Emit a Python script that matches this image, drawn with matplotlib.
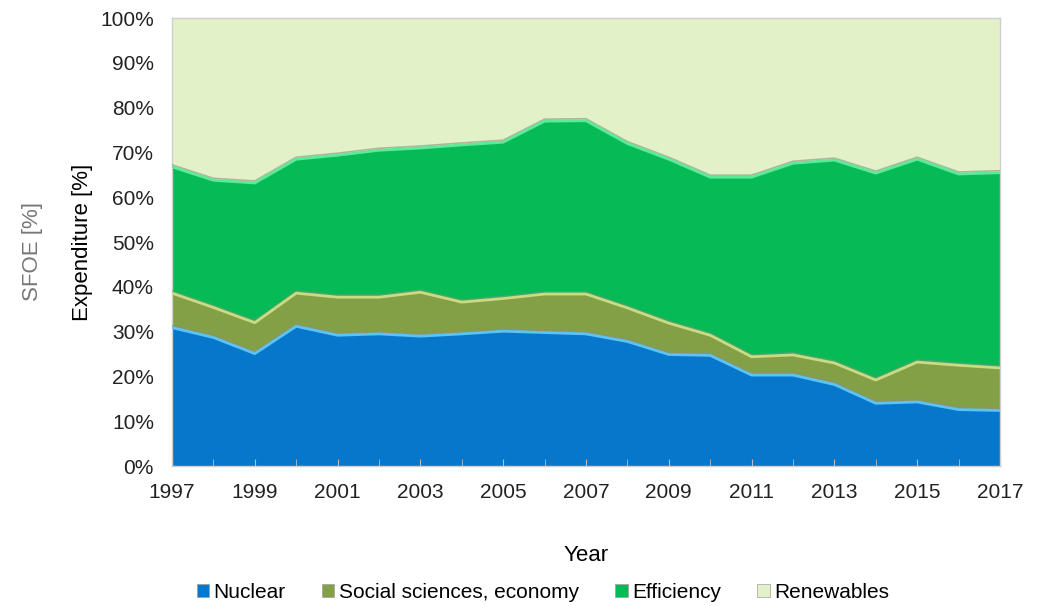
import numpy as np
import matplotlib
matplotlib.use('Agg')
from matplotlib import pyplot as plt

years = list(range(1997, 2018))

# cumulative tops (percent)
nuclear_top = [30.9, 28.7, 25.1, 31.2, 29.2, 29.5, 29.0, 29.5, 30.1, 29.8, 29.5,
               27.8, 24.9, 24.7, 20.3, 20.3, 18.2, 14.0, 14.3, 12.6, 12.4]
social_top = [38.6, 35.4, 32.0, 38.6, 37.7, 37.7, 38.8, 36.6, 37.4, 38.4, 38.4,
              35.3, 31.9, 29.2, 24.4, 24.8, 23.0, 19.2, 23.2, 22.5, 21.9]
efficiency_top = [66.8, 63.8, 63.2, 68.5, 69.4, 70.5, 71.0, 71.7, 72.3, 77.0, 77.1,
                  72.0, 68.5, 64.5, 64.5, 67.6, 68.3, 65.4, 68.5, 65.2, 65.5]

labels = ['Nuclear', 'Social sciences, economy', 'Efficiency', 'Renewables']
colors = ['#0677CB', '#84A047', '#06BA55', '#E3F1C9']
edge_colors = ['#5CC3F7', '#C9DC82', '#5BEA98', '#E3F1C9']

nuclear = np.array(nuclear_top)
social = np.array(social_top) - nuclear
efficiency = np.array(efficiency_top) - np.array(social_top)
renewables = 100 - np.array(efficiency_top)

plt.rcParams['font.family'] = ['Liberation Sans', 'DejaVu Sans']

fig = plt.figure(figsize=(10.38, 6.06), dpi=100)
ax = fig.add_axes([0.1657, 0.231, 0.7977, 0.739])

polys = ax.stackplot(years, nuclear, social, efficiency, renewables,
                     colors=colors, labels=labels, linewidth=0)

# bevel-like highlight on each boundary
tops = [nuclear_top, social_top, efficiency_top]
for top, ec in zip(tops, edge_colors[:3]):
    ax.plot(years, np.array(top) + 0.45, color='#8A8F80', lw=1.2, alpha=0.6, zorder=3)
    ax.plot(years, top, color=ec, lw=2.0, zorder=4)

ax.set_xlim(1997, 2017)
ax.set_ylim(0, 100)
ax.set_xticks(range(1997, 2018, 2))
ax.set_xticks(years, minor=True)
ax.set_yticks(range(0, 101, 10))
ax.set_yticklabels(['%d%%' % v for v in range(0, 101, 10)])
ax.tick_params(axis='both', labelsize=15, colors='#222222', length=0)
ax.tick_params(axis='y', pad=13)
ax.tick_params(axis='x', which='both', direction='in', length=5, color='#BBBBBB', pad=12)
for s in ax.spines.values():
    s.set_color('#CFCFCF')
    s.set_linewidth(1.0)

ax.set_xlabel('Year', fontsize=16, labelpad=31)
ax.set_ylabel('Expenditure [%]', fontsize=16)
ax.yaxis.set_label_coords(-0.096, 0.5)
fig.text(0.031, 0.585, 'SFOE [%]', rotation=90, fontsize=16, color='#777777',
         ha='center', va='center')

handles = [plt.Rectangle((0, 0), 1, 1, fc=c, ec='#9aa0a0', lw=0.5) for c in colors]
fig.legend(handles, labels, loc='center', bbox_to_anchor=(0.523, 0.022), ncol=4,
           frameon=False, fontsize=15, handlelength=0.6, handleheight=0.6,
           handletextpad=0.2, columnspacing=1.75)

fig.savefig('out.png', dpi=100)
